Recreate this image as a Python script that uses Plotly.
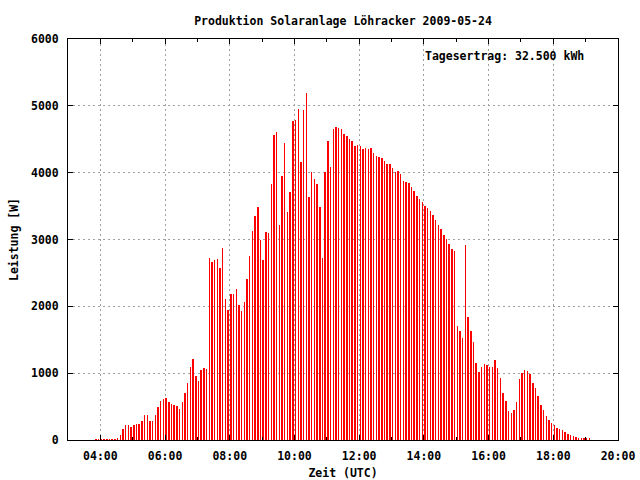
import pandas as pd
import plotly.graph_objects as go

title_text = "Produktion Solaranlage Löhracker 2009-05-24"
yield_text = "Tagesertrag: 32.500 kWh"
x_title = "Zeit (UTC)"
y_title = "Leistung [W]"

start_time = "2009-05-24 03:52"
step = "5min"

power_w = [
    15, 15, 15, 15, 15, 15, 15, 15, 35, 75,
    165, 225, 225, 195, 225, 240, 240, 285, 375, 375,
    285, 285, 375, 495, 585, 615, 630, 570, 540, 525,
    510, 465, 570, 705, 855, 1095, 1215, 960, 885, 1050,
    1080, 1065,
    2723, 2663, 2693, 2703, 2574, 2873, 2110, 1945, 2185, 2185,
    2259, 2015, 1930, 2065, 2409, 2753, 3127, 3352, 3486, 2993,
    2693, 3112, 3097, 3830, 4564, 4608, 3217, 3950, 4444, 3411,
    3711, 4773, 4788, 4953,
    4160, 4938, 5192, 3636, 4010, 3905, 3830, 3486, 2723, 4010,
    4474, 4085, 4653, 4683, 4668, 4653, 4579, 4549, 4504, 4474,
    4399, 4414, 4399, 4354, 4369, 4354, 4369, 4294, 4249, 4234,
    4219, 4175, 4130, 4130, 4070, 4010,
    4025, 3980, 3875, 3860, 3845, 3785, 3726, 3651, 3606, 3561,
    3501, 3471, 3426, 3367, 3292, 3217, 3157, 3067, 3007, 2933,
    2858, 2828, 1706, 1631, 1526, 2918, 1840, 1631, 1466, 1152,
    1017, 1092, 1137, 1122, 1092, 1092,
    1199, 1080, 930, 706, 587, 438, 408, 453, 572, 915,
    1005, 1050, 1035, 990, 856, 781, 662, 527, 453, 363,
    303, 259, 229, 184, 169, 154, 124, 95, 80, 65,
    50, 35, 35, 20, 20, 20,
]

times = pd.date_range(start=start_time, periods=len(power_w), freq=step)

FONT = "DejaVu Sans Mono"

fig = go.Figure()
fig.add_trace(go.Bar(
    x=times,
    y=power_w,
    width=52000,
    marker=dict(color="#ff0000", line=dict(width=0)),
    showlegend=False,
))

fig.update_layout(
    width=640,
    height=480,
    margin=dict(l=68, r=22, t=39, b=40, autoexpand=False),
    paper_bgcolor="white",
    plot_bgcolor="white",
    font=dict(family=FONT, size=11.5, color="black", weight="bold"),
    bargap=0,
    title=dict(
        text=title_text,
        x=0.5, xref="paper", xanchor="center",
        y=1 - 21 / 480, yref="container", yanchor="middle",
        automargin=False,
        font=dict(family=FONT, size=11.5, color="black", weight="bold"),
    ),
    annotations=[
        dict(
            text=yield_text,
            xref="paper", yref="paper",
            x=(586 - 68) / 550, y=(440 - 56) / 401,
            xanchor="right", yanchor="middle",
            showarrow=False,
            font=dict(family=FONT, size=11.5, color="black", weight="bold"),
        )
    ],
)

fig.update_xaxes(
    type="date",
    automargin=False,
    range=["2009-05-24 03:00", "2009-05-24 20:00"],
    dtick=2 * 3600 * 1000,
    tick0="2009-05-24 00:00",
    tickformat="%H:%M",
    showgrid=True,
    gridcolor="#a0a0a0",
    griddash="2px,3px",
    gridwidth=1,
    showline=True,
    linecolor="black",
    linewidth=1,
    mirror="allticks",
    ticks="inside",
    ticklen=5,
    tickcolor="black",
    minor=dict(ticks="inside", ticklen=3, dtick=3600 * 1000, tickcolor="black", showgrid=False),
    zeroline=False,
    title=dict(text=x_title, standoff=8, font=dict(family=FONT, size=11.5, weight="bold")),
    ticklabelstandoff=5,
)

fig.update_yaxes(
    automargin=False,
    range=[0, 6000],
    dtick=1000,
    tickformat="d",
    showgrid=True,
    gridcolor="#a0a0a0",
    griddash="2px,3px",
    gridwidth=1,
    showline=True,
    linecolor="black",
    linewidth=1,
    mirror="allticks",
    ticks="inside",
    ticklen=5,
    tickcolor="black",
    zeroline=False,
    title=dict(text=y_title, standoff=9, font=dict(family=FONT, size=11.5, weight="bold")),
    ticklabelstandoff=6,
)

fig.write_html(
    "out.html",
    config={"displayModeBar": False},
    post_script="document.body.style.margin='0';document.body.style.padding='0';",
)
